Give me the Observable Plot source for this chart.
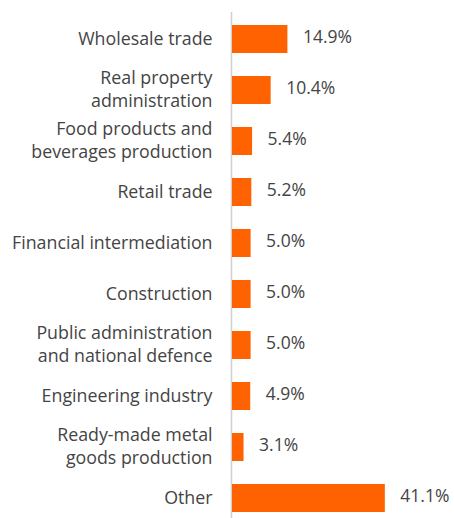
<!DOCTYPE html>
<html>
<head>
<meta charset="utf-8">
<script src="https://cdn.jsdelivr.net/npm/d3@7"></script>
<script src="https://cdn.jsdelivr.net/npm/@observablehq/plot@0.6"></script>
<style>
  html, body { margin: 0; padding: 0; background: #fff; }
  #chart svg { display: block; }
</style>
</head>
<body>
<div id="chart"></div>
<script>
const sectors = [
  "Wholesale trade",
  "Real property\nadministration",
  "Food products and\nbeverages production",
  "Retail trade",
  "Financial intermediation",
  "Construction",
  "Public administration\nand national defence",
  "Engineering industry",
  "Ready-made metal\ngoods production",
  "Other"
];
const shares = [14.9, 10.4, 5.4, 5.2, 5.0, 5.0, 5.0, 4.9, 3.1, 41.1];
const valueLabels = ["14.9%", "10.4%", "5.4%", "5.2%", "5.0%", "5.0%", "5.0%", "4.9%", "3.1%", "41.1%"];

const data = sectors.map((s, i) => ({sector: s, value: shares[i], label: valueLabels[i]}));

const font = "Open Sans, Noto Sans, sans-serif";
const textColor = "#444";

const chart = Plot.plot({
  width: 454,
  height: 537,
  marginLeft: 232,
  marginRight: 0,
  marginTop: 0,
  marginBottom: 0,
  style: {fontFamily: font, background: "#fff"},
  x: {domain: [0, 59.7], axis: null},
  y: {domain: sectors, padding: 0.45, axis: null},
  marks: [
    Plot.ruleX([0], {stroke: "#d0d0d0", strokeWidth: 1.5, dx: -1, insetTop: 12}),
    Plot.barX(data, {x: "value", y: "sector", fill: "#FF6200"}),
    Plot.text(data, {
      x: "value", y: "sector", text: "label", dx: 15, dy: -2,
      textAnchor: "start", fill: textColor, fontSize: 17.5, lineAnchor: "middle"
    }),
    Plot.text(data, {
      x: 0, y: "sector", text: "sector", dx: -20, dy: -2,
      textAnchor: "end", fill: textColor, fontSize: 17.8, lineHeight: 1.3, lineAnchor: "middle"
    })
  ]
});
document.getElementById("chart").appendChild(chart);
</script>
</body>
</html>
